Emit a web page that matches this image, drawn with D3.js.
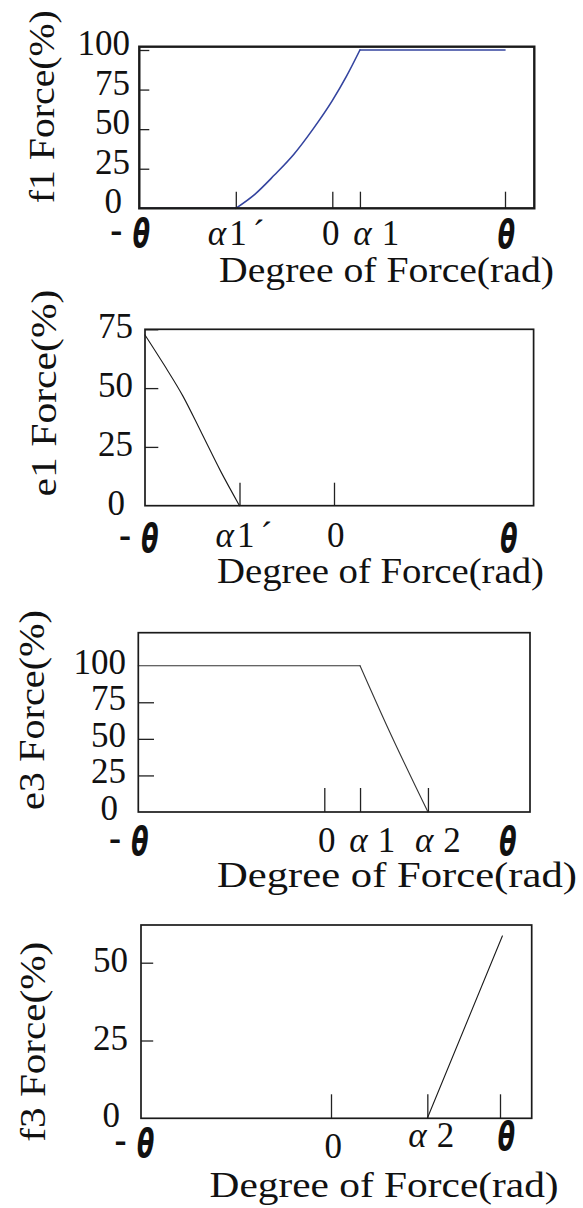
<!DOCTYPE html>
<html>
<head>
<meta charset="utf-8">
<script src="https://cdn.jsdelivr.net/npm/d3@7"></script>
<style>
  html, body { margin: 0; padding: 0; background: #fff; }
  svg { display: block; }
</style>
</head>
<body>
<svg id="chart" width="583" height="1208"></svg>
<script>
// ---------------------------------------------------------------
// Data. Angles are expressed in units of θ: -1 = -θ, 0 = 0, 1 = θ.
// Forces are in percent.
// ---------------------------------------------------------------
const f1X = [-1, -0.5, -0.4, -0.3, -0.2, -0.1, 0, 0.08, 0.16, 1];
const f1Y = [0, 0, 9, 21, 34, 50, 68, 83, 100, 100];

const e1X = [-1, -0.9, -0.8, -0.7, -0.6, -0.5];
const e1Y = [72.6, 60, 46.7, 30.8, 14.7, 0];

const e3X = [-1, 0.2, 0.35, 0.58];
const e3Y = [100, 100, 59, 0];

const f3X = [0.57, 1.014];
const f3Y = [0, 58.6];

// angle ticks: label positions, label texts, and where a tick mark is drawn
const f1XTicks  = [-1, -0.5, 0, 0.16, 1];
const f1XLabels = ["-θ", "α1´", "0", "α1", "θ"];
const f1XMarks  = [-0.5, 0, 0.16, 1];

const e1XTicks  = [-1, -0.5, 0, 1];
const e1XLabels = ["-θ", "α1´", "0", "θ"];
const e1XMarks  = [-0.5, 0];

const e3XTicks  = [-1, 0, 0.2, 0.58, 1];
const e3XLabels = ["-θ", "0", "α1", "α2", "θ"];
const e3XMarks  = [0, 0.2, 0.58];

const f3XTicks  = [-1, 0, 0.57, 1];
const f3XLabels = ["-θ", "0", "α2", "θ"];
const f3XMarks  = [0, 0.57, 1];

// force ticks
const f1YTicks = [0, 25, 50, 75, 100];
const f1YMarks = [25, 50, 75, 100];
const e1YTicks = [0, 25, 50, 75];
const e1YMarks = [25, 50, 75];
const e3YTicks = [0, 25, 50, 75, 100];
const e3YMarks = [25, 50, 75];
const f3YTicks = [0, 25, 50];
const f3YMarks = [25, 50];

const yTitles = ["f1 Force(%)", "e1 Force(%)", "e3 Force(%)", "f3 Force(%)"];
const xTitle = "Degree of Force(rad)";

// ---------------------------------------------------------------
// Layout of each panel (pixels)
// ---------------------------------------------------------------
const SERIF = "'Liberation Serif','Times New Roman',serif";
const THETA_FONT = "'DejaVu Sans',sans-serif";

const panels = [
  {
    x: f1X, y: f1Y, color: "#34449f", lineW: 1.6,
    xTicks: f1XTicks, xLabels: f1XLabels, xMarks: f1XMarks,
    yTicks: f1YTicks, yMarks: f1YMarks, yMax: 100, yTitle: yTitles[0],
    frame: { l: 139.3, t: 46.7, r: 534.3, b: 208.3 }, frameW: 2.4,
    xPix: [139.3, 332.3, 505], yPix: [208.3, 50],
    xTickLen: 16.6, yTickLen: 10,
    yLabX: 130, yLabDy: 5,
    labY: 245, thY: 247,
    nudge: { "-θ": [2, 0], "α1´": [-28, 0], "0": [-1.5, 0], "α1": [-6.6, 0], "θ": [1.3, 1] },
    xTitlePos: [219, 282, 335], yTitlePos: [53.5, 106.7, 193]
  },
  {
    x: e1X, y: e1Y, color: "#1a1a1a", lineW: 1.1,
    xTicks: e1XTicks, xLabels: e1XLabels, xMarks: e1XMarks,
    yTicks: e1YTicks, yMarks: e1YMarks, yMax: 75, yTitle: yTitles[1],
    frame: { l: 145, t: 329.3, r: 533.6, b: 505.7 }, frameW: 1.7,
    xPix: [145, 334, 508], yPix: [505.7, 329.3],
    xTickLen: 23, yTickLen: 13.3,
    yLabX: 133, yLabDy: 9,
    labY: 546.7, thY: 552,
    nudge: { "-θ": [5, 0], "α1´": [-24, 0], "0": [1.8, 0], "θ": [1, 0] },
    xTitlePos: [217, 583.3, 327], yTitlePos: [55.5, 393, 207]
  },
  {
    x: e3X, y: e3Y, color: "#333", lineW: 1.1,
    xTicks: e3XTicks, xLabels: e3XLabels, xMarks: e3XMarks,
    yTicks: e3YTicks, yMarks: e3YMarks, yMax: 100, yTitle: yTitles[2],
    frame: { l: 138.3, t: 632.7, r: 530, b: 812 }, frameW: 1.7,
    xPix: [138.3, 324.3, 503], yPix: [812, 665.7],
    xTickLen: 24, yTickLen: 15.7,
    yLabX: 126, yLabDy: 8,
    labY: 851.7, thY: 855,
    nudge: { "-θ": [1.7, 0], "0": [2.4, 0], "α1": [-10.7, 0], "α2": [-13, 0], "θ": [5, 0] },
    xTitlePos: [217, 887.3, 360], yTitlePos: [43.5, 710, 200]
  },
  {
    x: f3X, y: f3Y, color: "#1a1a1a", lineW: 1.1,
    xTicks: f3XTicks, xLabels: f3XLabels, xMarks: f3XMarks,
    yTicks: f3YTicks, yMarks: f3YMarks, yMax: 50, yTitle: yTitles[3],
    frame: { l: 141, t: 925, r: 531.7, b: 1118.3 }, frameW: 1.7,
    xPix: [141, 331, 500], yPix: [1118.3, 962.7],
    xTickLen: 24, yTickLen: 12.2,
    yLabX: 128, yLabDy: 9,
    labY: 1146.7, thY: 1150,
    nudge: { "-θ": [4.6, 6.7], "0": [2.3, 11.6], "α2": [-19, 0], "θ": [6.3, 0] },
    xTitlePos: [209.6, 1196.7, 349], yTitlePos: [44.5, 1041.7, 200]
  }
];

const svg = d3.select("#chart");

// bold slanted theta, optionally preceded by a minus sign
function drawTheta(g, cx, baseY, negative) {
  g.append("text")
    .attr("transform", `translate(${cx},${baseY}) scale(0.68,1.06)`)
    .attr("text-anchor", "middle")
    .attr("font-family", THETA_FONT)
    .attr("font-weight", "bold")
    .attr("font-style", "italic")
    .attr("font-size", 37)
    .attr("fill", "#111")
    .text("θ");
  if (negative) {
    g.append("text")
      .attr("transform", `translate(${cx - 25},${baseY - 6}) scale(1.4,1.1)`)
      .attr("text-anchor", "middle")
      .attr("font-family", "'Liberation Sans',Arial,sans-serif")
      .attr("font-weight", "bold")
      .attr("font-size", 26)
      .attr("fill", "#111")
      .text("-");
  }
}

function drawAlpha(g, x, y, label) {
  const digit = label.charAt(1);
  const prime = label.length > 2;
  const t = g.append("text")
    .attr("x", x).attr("y", y)
    .attr("font-family", SERIF)
    .attr("font-size", 35)
    .attr("fill", "#111");
  t.append("tspan").attr("font-style", "italic").text("α");
  t.append("tspan").attr("dx", prime ? 3 : 10).text(digit);
  if (prime) t.append("tspan").attr("dx", 6).text("´");
}

// split a series into runs that are flat or changing, so that the
// changing parts can be smoothed while the corners stay sharp
function runs(pts) {
  const out = [];
  let cur = [pts[0]];
  let flat = null;
  for (let i = 1; i < pts.length; i++) {
    const f = pts[i][1] === pts[i - 1][1];
    if (flat === null || f === flat) {
      cur.push(pts[i]);
    } else {
      out.push({ flat, pts: cur });
      cur = [pts[i - 1], pts[i]];
    }
    flat = f;
  }
  out.push({ flat, pts: cur });
  return out;
}

panels.forEach(p => {
  const g = svg.append("g");
  const F = p.frame;

  const x = d3.scaleLinear().domain([-1, 0, 1]).range(p.xPix);
  const y = d3.scaleLinear().domain([0, p.yMax]).range(p.yPix);

  // inward tick marks along the bottom and left edges
  g.append("g")
    .attr("transform", `translate(0,${F.b})`)
    .call(d3.axisBottom(x).tickValues(p.xMarks).tickSize(-p.xTickLen).tickFormat(""))
    .call(a => a.select(".domain").remove())
    .call(a => a.selectAll("line").attr("stroke", "#222").attr("stroke-width", 1.3));

  g.append("g")
    .attr("transform", `translate(${F.l},0)`)
    .call(d3.axisLeft(y).tickValues(p.yMarks).tickSize(-p.yTickLen).tickFormat(""))
    .call(a => a.select(".domain").remove())
    .call(a => a.selectAll("line").attr("stroke", "#222").attr("stroke-width", 1.3));

  // force curve
  const pts = d3.zip(p.x, p.y);
  runs(pts).forEach(r => {
    const line = d3.line()
      .x(d => x(d[0])).y(d => y(d[1]))
      .curve(r.flat || r.pts.length < 3 ? d3.curveLinear : d3.curveMonotoneX);
    g.append("path")
      .datum(r.pts)
      .attr("d", line)
      .attr("fill", "none")
      .attr("stroke", p.color)
      .attr("stroke-width", p.lineW)
      .attr("stroke-linecap", "round");
  });

  // frame
  g.append("rect")
    .attr("x", F.l).attr("y", F.t)
    .attr("width", F.r - F.l).attr("height", F.b - F.t)
    .attr("fill", "none")
    .attr("stroke", "#1a1a1a")
    .attr("stroke-width", p.frameW);

  // force tick labels
  p.yTicks.forEach(v => {
    const s = String(v);
    g.append("text")
      .attr("x", p.yLabX)
      .attr("dx", s.length === 1 ? -8 : 0)
      .attr("y", y(v) + p.yLabDy)
      .attr("text-anchor", "end")
      .attr("font-family", SERIF)
      .attr("font-size", 35)
      .attr("fill", "#111")
      .text(s);
  });

  // angle tick labels
  p.xTicks.forEach((v, i) => {
    const lab = p.xLabels[i];
    const n = p.nudge[lab] || [0, 0];
    const px = x(v) + n[0];
    if (lab.includes("θ")) {
      drawTheta(g, px, p.thY + n[1], lab.startsWith("-"));
    } else if (lab.startsWith("α")) {
      drawAlpha(g, px, p.labY + n[1], lab);
    } else {
      g.append("text")
        .attr("x", px).attr("y", p.labY + n[1])
        .attr("text-anchor", "middle")
        .attr("font-family", SERIF)
        .attr("font-size", 35)
        .attr("fill", "#111")
        .text(lab);
    }
  });

  // axis titles
  g.append("text")
    .attr("x", p.xTitlePos[0]).attr("y", p.xTitlePos[1])
    .attr("font-family", SERIF)
    .attr("font-size", 35)
    .attr("fill", "#111")
    .attr("textLength", p.xTitlePos[2])
    .attr("lengthAdjust", "spacingAndGlyphs")
    .text(xTitle);

  g.append("text")
    .attr("transform", `translate(${p.yTitlePos[0]},${p.yTitlePos[1]}) rotate(-90)`)
    .attr("text-anchor", "middle")
    .attr("font-family", SERIF)
    .attr("font-size", 36)
    .attr("fill", "#111")
    .attr("textLength", p.yTitlePos[2])
    .attr("lengthAdjust", "spacingAndGlyphs")
    .text(p.yTitle);
});
</script>
</body>
</html>
